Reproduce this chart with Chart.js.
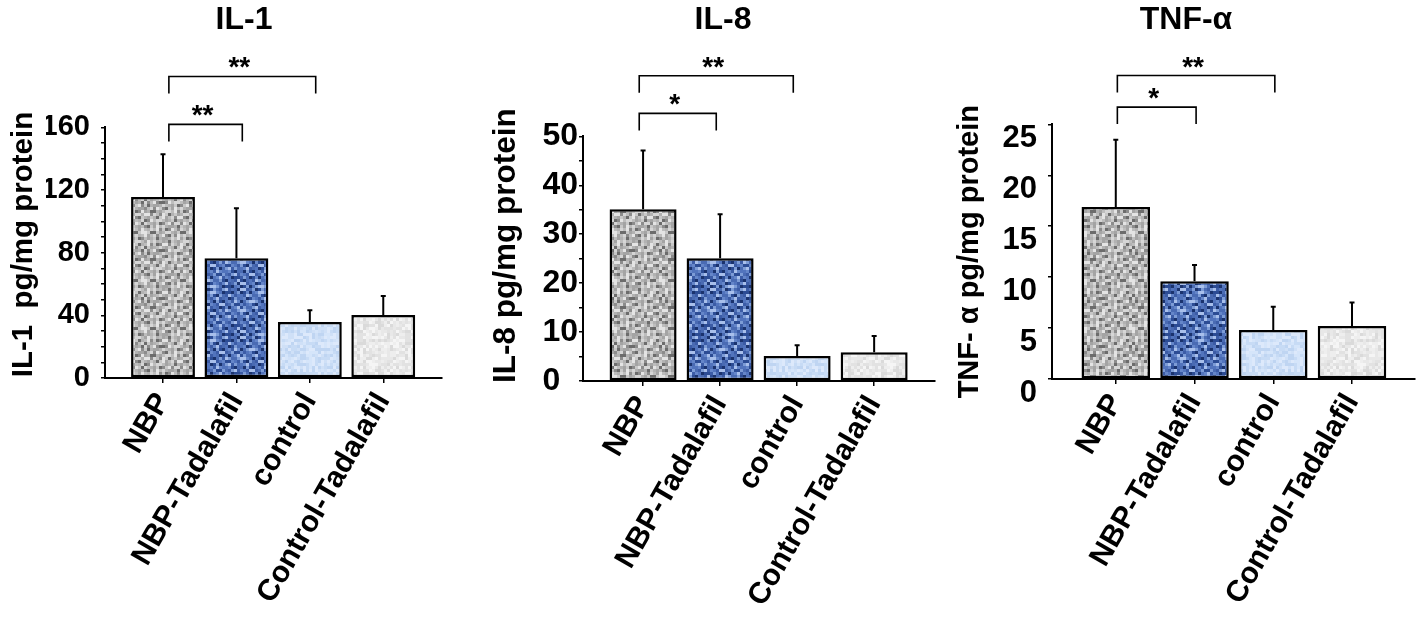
<!DOCTYPE html>
<html lang="en">
<head>
<meta charset="UTF-8">
<title>IL-1, IL-8, TNF-α</title>
<script src="https://cdn.jsdelivr.net/npm/chart.js"></script>
<style>
  html, body { margin: 0; padding: 0; background: #fff; overflow: hidden; }
  body { width: 1418px; height: 624px; position: relative; }
  .panel { position: absolute; top: 0; }
</style>
</head>
<body>
<div class="panel" style="left:0px"><canvas id="chartIL1" width="445" height="624"></canvas></div>
<div class="panel" style="left:470px"><canvas id="chartIL8" width="468" height="624"></canvas></div>
<div class="panel" style="left:940px"><canvas id="chartTNF" width="478" height="624"></canvas></div>

<script>
// groups on the x axis
const categories = ['NBP', 'NBP-Tadalafil', 'control', 'Control-Tadalafil'];

// IL-1 (pg/mg protein): mean and upper error
const il1Means = [115.5, 76.5, 35.7, 40.2];
const il1Errors = [27.3, 31.9, 7.6, 12.1];
// IL-8
const il8Means = [35.1, 25.1, 5.1, 5.9];
const il8Errors = [12.0, 9.0, 2.2, 3.3];
// TNF-alpha
const tnfMeans = [16.9, 9.6, 4.8, 5.2];
const tnfErrors = [6.6, 1.6, 2.3, 2.3];

// significance brackets: [from group, to group, bracket level, label]
const il1Brackets = [[0, 2, 192.5, '**'], [0, 1, 161.9, '**']];
const il8Brackets = [[0, 2, 62.4, '**'], [0, 1, 54.7, '*']];
const tnfBrackets = [[0, 2, 29.8, '**'], [0, 1, 26.7, '*']];

Chart.defaults.font.family = "'Liberation Sans', Arial, sans-serif";
Chart.defaults.color = '#000';

// speckled fills like the scanned bars (deterministic hash, no randomness)
function speckle(colors, seed) {
    const c = document.createElement('canvas');
    c.width = 48; c.height = 48;
    const g = c.getContext('2d');
    for (let i = 0; i < 16; i++) {
        for (let j = 0; j < 16; j++) {
            let h = Math.imul(i * 374761393 + j * 668265263 + seed * 2246822519, 1274126177);
            h = (h ^ (h >>> 13)) >>> 0;
            g.fillStyle = colors[h % colors.length];
            g.fillRect(i * 3, j * 3, 3, 3);
        }
    }
    return g.createPattern(c, 'repeat');
}
const fills = [
    speckle(['#d6d6d6', '#bdbdbd', '#a4a4a4', '#8c8c8c', '#6c6c6c', '#c8c8c8', '#e4e4e4', '#b2b2b2'], 1),
    speckle(['#2c4c94', '#1b336e', '#5274bd', '#7d9cd6', '#a8bfeb', '#3c5ca6', '#4a6bb3', '#6586c9'], 2),
    speckle(['#d5e5fa', '#c7dbf5', '#dde9fb', '#cfe0f7', '#bfd5f2'], 3),
    speckle(['#eeeeee', '#e2e2e2', '#f5f5f5', '#dadada', '#e8e8e8'], 4)
];

function annotations(means, errors, brackets, shift) {
    return {
        id: 'annotations',
        afterDatasetsDraw(chart) {
            const { ctx, scales: { x, y } } = chart;
            ctx.save();
            ctx.strokeStyle = '#000';
            ctx.fillStyle = '#000';
            // upper error bars
            ctx.lineWidth = 2;
            means.forEach((m, i) => {
                const px = x.getPixelForValue(i);
                const y0 = y.getPixelForValue(m);
                const y1 = y.getPixelForValue(m + errors[i]);
                ctx.beginPath();
                ctx.moveTo(px, y0);
                ctx.lineTo(px, y1);
                ctx.moveTo(px - 2.5, y1);
                ctx.lineTo(px + 2.5, y1);
                ctx.stroke();
            });
            // brackets with stars
            ctx.lineWidth = 1.6;
            ctx.font = "bold 28px 'Liberation Sans', Arial, sans-serif";
            ctx.textAlign = 'center';
            ctx.textBaseline = 'alphabetic';
            brackets.forEach(([from, to, level, label]) => {
                const x0 = x.getPixelForValue(from + shift);
                const x1 = x.getPixelForValue(to + shift);
                const py = y.getPixelForValue(level);
                ctx.beginPath();
                ctx.moveTo(x0, py + 17);
                ctx.lineTo(x0, py);
                ctx.lineTo(x1, py);
                ctx.lineTo(x1, py + 17);
                ctx.stroke();
                ctx.fillText(label, (x0 + x1) / 2 - 3, py);
            });
            ctx.restore();
        }
    };
}

function makeChart(id, p) {
    const yTitleLine = p.yTitleSize * 1.2;
    return new Chart(document.getElementById(id), {
        type: 'bar',
        data: {
            datasets: [{
                data: p.means.map((v, i) => ({ x: i, y: v })),
                backgroundColor: fills,
                borderColor: '#000',
                borderWidth: 2.5,
                borderSkipped: false,
                barPercentage: 0.87,
                categoryPercentage: 1
            }]
        },
        options: {
            responsive: false,
            animation: false,
            layout: { padding: { top: 1, right: 3, left: p.padLeft, bottom: 0 } },
            plugins: {
                legend: { display: false },
                tooltip: { enabled: false },
                title: {
                    display: true,
                    text: p.title,
                    font: { size: 32, weight: 'bold' },
                    padding: { top: 0, bottom: p.titleGap }
                }
            },
            scales: {
                x: {
                    type: 'linear',
                    offset: false,
                    min: p.xMin,
                    max: p.xMax,
                    afterBuildTicks: s => { s.ticks = categories.map((c, i) => ({ value: i })); },
                    afterFit: s => { s.height = p.xHeight; },
                    grid: { drawOnChartArea: false, offset: false, tickLength: 5, color: '#000', lineWidth: 1.5 },
                    border: { color: '#000', width: 2 },
                    ticks: {
                        autoSkip: false,
                        minRotation: 60,
                        maxRotation: 60,
                        padding: 4,
                        font: { size: 30, weight: 'bold' },
                        callback: v => categories[v]
                    }
                },
                y: {
                    min: 0,
                    max: p.yMax,
                    afterFit: s => { s.width = p.yWidth; },
                    grid: { drawOnChartArea: false, tickLength: 4, color: '#000', lineWidth: 1.5 },
                    border: { color: '#000', width: 2 },
                    title: {
                        display: true,
                        text: p.yTitle,
                        font: { size: p.yTitleSize, weight: 'bold' },
                        // centre the rotated title at p.yTitleX (canvas px)
                        padding: { top: p.yTitleX - p.padLeft - yTitleLine / 2, bottom: 0 }
                    },
                    ticks: {
                        autoSkip: false,
                        stepSize: p.minorStep,
                        padding: p.tickPad,
                        labelOffset: p.labelOffset,
                        font: { size: p.tickSize, weight: 'bold' },
                        callback: p.tickLabel
                    }
                }
            }
        },
        plugins: [annotations(p.means, p.errors, p.brackets, p.shift)]
    });
}

makeChart('chartIL1', {
    title: 'IL-1', yTitle: '\u00a0\u00a0IL-1  pg/mg protein', yTitleSize: 29.5, yTitleX: 24,
    means: il1Means, errors: il1Errors, brackets: il1Brackets, shift: 0.08,
    yMax: 160, minorStep: 10, tickLabel: v => (v % 40 === 0 ? v : ''), tickSize: 29,
    xMin: -0.79, xMax: 3.8, padLeft: 46, titleGap: 88, xHeight: 246,
    yWidth: 59, tickPad: 11, labelOffset: 0
});

makeChart('chartIL8', {
    title: 'IL-8', yTitle: '\u00a0\u00a0\u00a0IL-8 pg/mg protein', yTitleSize: 31.5, yTitleX: 36,
    means: il8Means, errors: il8Errors, brackets: il8Brackets, shift: -0.05,
    yMax: 50, minorStep: 5, tickLabel: v => (v % 10 === 0 ? (v < 10 ? v + '\u2007' : v) : ''), tickSize: 32,
    xMin: -0.78, xMax: 3.79, padLeft: 41, titleGap: 97, xHeight: 243,
    yWidth: 72, tickPad: 1, labelOffset: 0
});

makeChart('chartTNF', {
    title: 'TNF-α', yTitle: 'TNF- α pg/mg protein', yTitleSize: 29, yTitleX: 30,
    means: tnfMeans, errors: tnfErrors, brackets: tnfBrackets, shift: 0.02,
    yMax: 25, minorStep: 5, tickLabel: v => v, tickSize: 31,
    xMin: -0.81, xMax: 3.8, padLeft: 17, titleGap: 85, xHeight: 245,
    yWidth: 95, tickPad: 11, labelOffset: 14
});
</script>
</body>
</html>
